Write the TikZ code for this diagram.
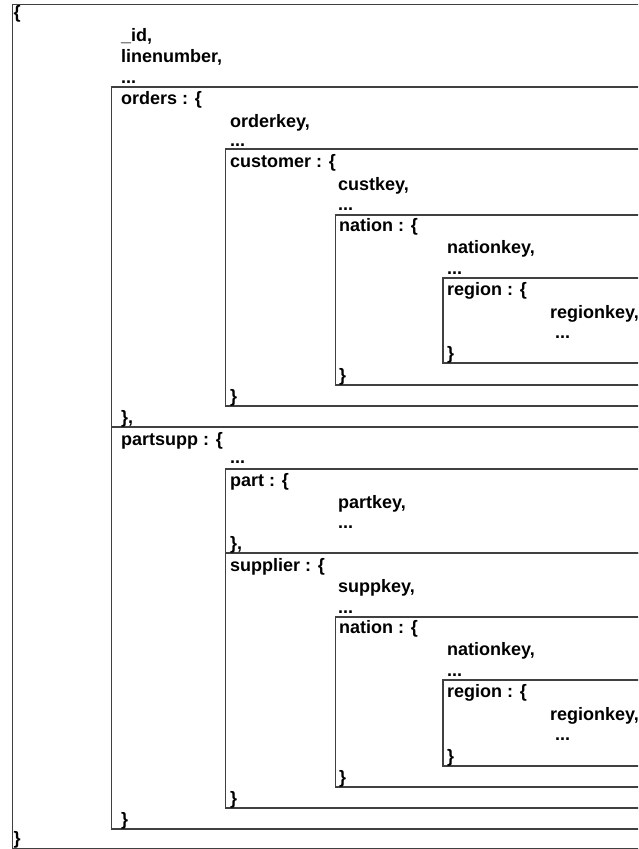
\documentclass[tikz,border=0pt]{standalone}
\usepackage{fontspec}
\setmainfont{Liberation Sans}
\begin{document}
\begin{tikzpicture}[x=1pt,y=-1pt,
  txt/.style={anchor=base west,inner sep=0pt,font=\bfseries\fontsize{18}{21}\selectfont},
  frame/.style={draw=black!75,line width=1.3pt}]
\useasboundingbox (0,0) rectangle (638,849);
\clip (0,0) rectangle (638,849);

% nested document frames (open to the right)
\draw[frame] (12.5,4.5)  rectangle (700,848.9);
\draw[frame] (111.5,87)  rectangle (700,427);
\draw[frame] (111.5,427) rectangle (700,829);
\draw[frame] (225.5,149) rectangle (700,406);
\draw[frame] (335.5,215) rectangle (700,385);
\draw[frame] (443,278)   rectangle (700,363);
\draw[frame] (225.5,469) rectangle (700,553);
\draw[frame] (225.5,553) rectangle (700,808);
\draw[frame] (335.5,617) rectangle (700,787);
\draw[frame] (443,680)   rectangle (700,766);

% top level
\node[txt] (top-open)  at (13.5,18.5) {\{};
\node[txt] (id)        at (121,41)  {\_id,};
\node[txt] (linenum)   at (121,62)  {linenumber,};
\node[txt] (top-dots)  at (121,83)  {...};

% orders
\node[txt] (ord-open)  at (121,104) {orders : \{};
\node[txt] (ordkey)    at (230,127) {orderkey,};
\node[txt] (ord-dots)  at (230,146.5) {...};
\node[txt] (cus-open)  at (230,167) {customer : \{};
\node[txt] (custkey)   at (338,190) {custkey,};
\node[txt] (cus-dots)  at (338,210) {...};
\node[txt] (na1-open)  at (339,231.5) {nation : \{};
\node[txt] (na1key)    at (447,253) {nationkey,};
\node[txt] (na1-dots)  at (447,274) {...};
\node[txt] (re1-open)  at (447,295) {region : \{};
\node[txt] (re1key)    at (550,318) {regionkey,};
\node[txt] (re1-dots)  at (555,338) {...};
\node[txt] (re1-close) at (447,359) {\}};
\node[txt] (na1-close) at (339,381) {\}};
\node[txt] (cus-close) at (230,402) {\}};
\node[txt] (ord-close) at (121,423) {\},};

% partsupp
\node[txt] (ps-open)   at (121,445) {partsupp : \{};
\node[txt] (ps-dots)   at (230,463) {...};
\node[txt] (part-open) at (230,486.5) {part : \{};
\node[txt] (partkey)   at (338,508) {partkey,};
\node[txt] (part-dots) at (338,528) {...};
\node[txt] (part-close) at (230,549) {\},};
\node[txt] (sup-open)  at (230,571) {supplier : \{};
\node[txt] (suppkey)   at (338,592) {suppkey,};
\node[txt] (sup-dots)  at (338,613) {...};
\node[txt] (na2-open)  at (339,633) {nation : \{};
\node[txt] (na2key)    at (447,655) {nationkey,};
\node[txt] (na2-dots)  at (447,676) {...};
\node[txt] (re2-open)  at (447,697) {region : \{};
\node[txt] (re2key)    at (550,720) {regionkey,};
\node[txt] (re2-dots)  at (555,740) {...};
\node[txt] (re2-close) at (447,762) {\}};
\node[txt] (na2-close) at (339,783) {\}};
\node[txt] (sup-close) at (230,804) {\}};
\node[txt] (ps-close)  at (121,825) {\}};
\node[txt] (top-close) at (13.5,844) {\}};
\end{tikzpicture}
\end{document}
